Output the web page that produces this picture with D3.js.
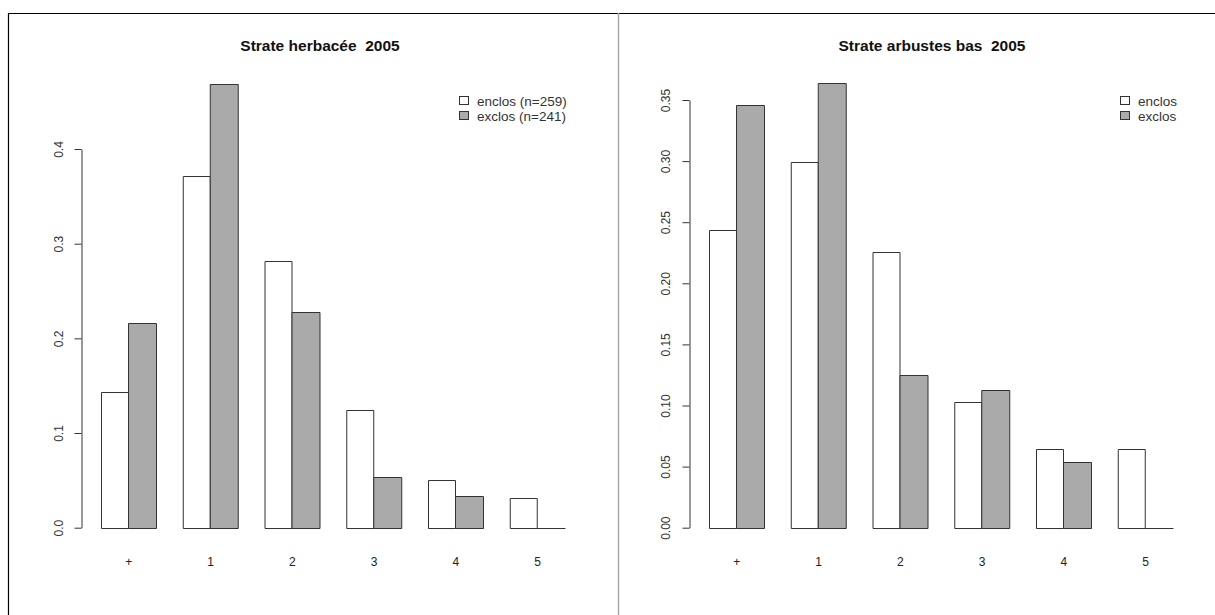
<!DOCTYPE html>
<html>
<head>
<meta charset="utf-8">
<script src="https://cdn.jsdelivr.net/npm/d3@7"></script>
<style>
  html, body { margin: 0; padding: 0; background: #fff; }
  svg { display: block; }
  text { font-family: "Liberation Sans", Arial, sans-serif; white-space: pre; }
</style>
</head>
<body>
<svg id="chart" width="1215" height="615"></svg>
<script>
// ---- data ----
const categories = ["+", "1", "2", "3", "4", "5"];
const seriesNames = ["enclos", "exclos"];

const herbTitle = "Strate herbacée  2005";
const herbEnclos = [0.143, 0.371, 0.282, 0.124, 0.050, 0.031];
const herbExclos = [0.216, 0.469, 0.228, 0.054, 0.033, 0.0];
const herbLegend = ["enclos (n=259)", "exclos (n=241)"];
const herbTicks = [0.0, 0.1, 0.2, 0.3, 0.4];

const arbTitle = "Strate arbustes bas  2005";
const arbEnclos = [0.244, 0.299, 0.226, 0.103, 0.064, 0.064];
const arbExclos = [0.346, 0.364, 0.125, 0.113, 0.054, 0.0];
const arbLegend = ["enclos", "exclos"];
const arbTicks = [0.00, 0.05, 0.10, 0.15, 0.20, 0.25, 0.30, 0.35];

const fills = ["#ffffff", "#aaaaaa"];

const svg = d3.select("#chart");

// frame lines
svg.append("line").attr("x1", 8).attr("x2", 1215).attr("y1", 13.5).attr("y2", 13.5)
  .attr("stroke", "#000").attr("stroke-width", 1.2);
svg.append("line").attr("x1", 8.5).attr("x2", 8.5).attr("y1", 13).attr("y2", 615)
  .attr("stroke", "#000").attr("stroke-width", 1.2);
svg.append("line").attr("x1", 618.5).attr("x2", 618.5).attr("y1", 13).attr("y2", 615)
  .attr("stroke", "#aaaaaa").attr("stroke-width", 1.5);

function panel(cfg) {
  const g = svg.append("g");
  const unit = 27.25;
  const x = d3.scaleBand().domain(categories)
    .range([cfg.barStart - unit, cfg.barStart + 18 * unit])
    .paddingInner(1 / 3).paddingOuter(1 / 3);
  const xs = d3.scaleBand().domain(seriesNames).range([0, x.bandwidth()]);
  const y = d3.scaleLinear().domain([0, cfg.ticks[cfg.ticks.length - 1]])
    .range([cfg.y0, cfg.yTop]);

  const rows = categories.map((c, i) => ({ cat: c, vals: [cfg.enclos[i], cfg.exclos[i]] }));
  const yb = Math.round(y(0)) + 0.5;

  const grp = g.selectAll("g.grp").data(rows).join("g")
    .attr("transform", d => `translate(${x(d.cat)},0)`);
  grp.selectAll("path").data(d => d.vals.map((v, j) => ({ v, s: seriesNames[j], j })))
    .join("path")
    .attr("d", d => {
      const x0 = Math.round(xs(d.s)) + 0.5;
      const x1 = Math.round(xs(d.s) + xs.bandwidth()) + 0.5;
      const yt = Math.round(y(d.v)) + 0.5;
      return `M${x0},${yb}V${yt}H${x1}V${yb}Z`;
    })
    .attr("fill", d => fills[d.j])
    .attr("stroke", "#333")
    .attr("stroke-width", 1);

  // y axis
  const ax = g.append("g").attr("transform", `translate(${cfg.axisX},0)`)
    .call(d3.axisLeft(y).tickValues(cfg.ticks).tickSize(7).tickSizeOuter(0)
      .tickFormat(d3.format(cfg.fmt)));
  ax.select(".domain").attr("stroke", "#333");
  ax.selectAll(".tick line").attr("stroke", "#333");
  ax.selectAll(".tick text")
    .attr("x", null).attr("dy", null)
    .attr("transform", `translate(${cfg.labelOffset},0) rotate(-90)`)
    .attr("text-anchor", "middle")
    .attr("fill", "#333")
    .style("font-size", "12px");

  // x labels
  g.selectAll("text.xl").data(categories).join("text").attr("class", "xl")
    .attr("x", d => x(d) + x.bandwidth() / 2 + 0.5)
    .attr("y", 566)
    .attr("text-anchor", "middle")
    .attr("fill", "#222")
    .style("font-size", "12px")
    .text(d => d);

  // title
  g.append("text").attr("x", cfg.titleX).attr("y", 51)
    .attr("text-anchor", "middle")
    .style("font-size", "15.5px").style("font-weight", "bold")
    .attr("fill", "#111")
    .text(cfg.title);

  // legend
  const lg = g.append("g").attr("transform", `translate(${cfg.legendX},${cfg.legendY})`);
  cfg.legend.forEach((t, i) => {
    lg.append("rect").attr("x", 0.5).attr("y", i * 15 - 4.5).attr("width", 9).attr("height", 8)
      .attr("fill", fills[i]).attr("stroke", "#333");
    lg.append("text").attr("x", 18).attr("y", i * 15 + 5)
      .attr("fill", "#333").style("font-size", "13.5px").text(t);
  });
}

panel({
  title: herbTitle, titleX: 320, enclos: herbEnclos, exclos: herbExclos,
  ticks: herbTicks, fmt: ".1f", barStart: 101, axisX: 81.5, y0: 527.7, yTop: 149,
  labelOffset: -19, legend: herbLegend, legendX: 459, legendY: 101
});
panel({
  title: arbTitle, titleX: 932, enclos: arbEnclos, exclos: arbExclos,
  ticks: arbTicks, fmt: ".2f", barStart: 709, axisX: 689.5, y0: 527.7, yTop: 100,
  labelOffset: -20, legend: arbLegend, legendX: 1120, legendY: 101
});
</script>
</body>
</html>
